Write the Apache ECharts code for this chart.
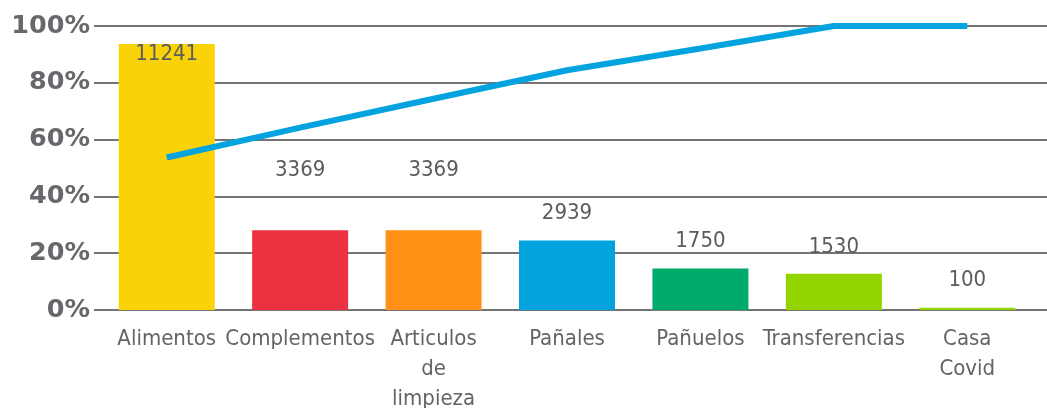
<!DOCTYPE html>
<html>
<head>
<meta charset="utf-8">
<script src="https://cdn.jsdelivr.net/npm/echarts@6/dist/echarts.min.js"></script>
<style>
  html, body { margin: 0; padding: 0; background: #ffffff; }
  #chart { width: 1047px; height: 408px; }
</style>
</head>
<body>
<div id="chart"></div>
<script>
// Categories of donated goods
const categories = ['Alimentos', 'Complementos', 'Articulos\nde\nlimpieza', 'Pañales', 'Pañuelos', 'Transferencias', 'Casa\nCovid'];
// Units per category
const units = [11241, 3369, 3369, 2939, 1750, 1530, 100];
// Cumulative share (%)
const cumulative = [53.7, 64.2, 74.4, 84.4, 92.1, 100, 100];
// Percentage axis ticks
const pctTicks = [0, 20, 40, 60, 80, 100];

const barColors = ['#F9D307', '#EC3240', '#FF9116', '#02A3DF', '#00AA6A', '#94D500', '#94D500'];
const lineColor = '#02A3DF';
const textColor = '#646468';
const font = "'DejaVu Sans Condensed', 'DejaVu Sans', sans-serif";
// extra lift for labels that sit higher above their bars
const labelDistance = { 1: 49, 2: 49 };

const chart = echarts.init(document.getElementById('chart'), null, { renderer: 'canvas' });

const barData = units.map((v, i) => {
  const item = { value: v, itemStyle: { color: barColors[i] } };
  if (i === 0) {
    item.label = { position: 'insideTop', distance: -1 };
  } else if (labelDistance[i] !== undefined) {
    item.label = { distance: labelDistance[i] };
  }
  return item;
});

chart.setOption({
  animation: false,
  backgroundColor: '#ffffff',
  grid: [
    { left: 94, right: 0, top: 26, bottom: 98, outerBoundsMode: 'none', containLabel: false },
    { left: 100, right: 13, top: 26, bottom: 98, outerBoundsMode: 'none', containLabel: false }
  ],
  xAxis: [
    { gridIndex: 0, type: 'category', data: categories, show: false },
    {
      gridIndex: 1, type: 'category', data: categories,
      axisLine: { show: false }, axisTick: { show: false },
      axisLabel: {
        interval: 0, color: textColor, fontFamily: font, fontSize: 22,
        lineHeight: 30, margin: 14
      }
    }
  ],
  yAxis: [
    {
      gridIndex: 0, type: 'value', min: pctTicks[0], max: pctTicks[pctTicks.length - 1], interval: 20,
      axisLine: { show: false }, axisTick: { show: false },
      axisLabel: {
        formatter: v => v + '%', color: '#68686c', fontFamily: "'DejaVu Sans', sans-serif",
        fontWeight: 'bold', fontSize: 25.5, margin: 4
      },
      splitLine: { show: true, lineStyle: { color: '#747474', width: 2 } }
    },
    { gridIndex: 1, type: 'value', min: 0, max: 12000, show: false },
    { gridIndex: 1, type: 'value', min: 0, max: 100, show: false }
  ],
  series: [
    {
      type: 'bar', xAxisIndex: 1, yAxisIndex: 1, barWidth: 96,
      data: barData,
      label: {
        show: true, position: 'top', distance: 16,
        color: '#5c5c60', fontFamily: font, fontSize: 22
      }
    },
    {
      type: 'line', xAxisIndex: 1, yAxisIndex: 2, data: cumulative,
      symbol: 'none', lineStyle: { color: lineColor, width: 6 }, z: 5
    }
  ]
});
</script>
</body>
</html>
